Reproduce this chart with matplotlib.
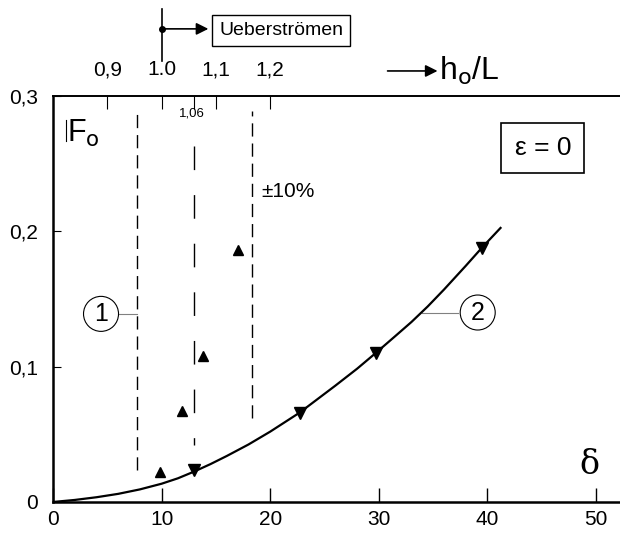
import matplotlib.pyplot as plt

plt.rcParams['font.family'] = ['Liberation Sans', 'DejaVu Sans']

# curve 2
curve_x = [0, 2, 4, 6, 8, 10, 11.5, 13, 14.5, 16, 18, 20, 22.7, 26, 28, 29.7,
           31.5, 33, 34.5, 36, 38, 39.5, 41.2]
curve_y = [0, 0.0015, 0.0035, 0.006, 0.0093, 0.0135, 0.0175, 0.0225, 0.028, 0.034,
           0.0425, 0.052, 0.066, 0.086, 0.0985, 0.11, 0.1225, 0.133, 0.1445, 0.157,
           0.1745, 0.188, 0.2025]

# measured points on the curve (down triangles)
down_x = [13.0, 22.7, 29.7, 39.5]
down_y = [0.0237, 0.066, 0.11, 0.188]

# measured points (up triangles)
up_x = [9.85, 11.9, 13.8, 17.0]
up_y = [0.022, 0.067, 0.108, 0.186]

# vertical reference lines (delta positions)
band_low, band_high = 7.7, 18.3
mid_line = 12.95

x_ticks = [0, 10, 20, 30, 40, 50]
y_ticks = [0, 0.1, 0.2, 0.3]
y_labels = ['0', '0,1', '0,2', '0,3']
top_ticks = [0.9, 1.0, 1.06, 1.1, 1.2]
top_labels = ['0,9', '1.0', '', '1,1', '1,2']

fig = plt.figure(figsize=(6.2, 5.33), dpi=100)
ax = fig.add_axes([0.0855, 0.0582, 0.9145, 0.7617])
ax.set_xlim(0, 52.2)
ax.set_ylim(0, 0.3)

# lines and markers
ax.plot(curve_x, curve_y, color='black', lw=1.6, zorder=3)
ax.plot(down_x, down_y, 'v', color='black', ms=8, zorder=4)
ax.plot(up_x, up_y, '^', color='black', ms=7.5, zorder=4)

ax.plot([band_low, band_low], [0.0237, 0.289], color='black', lw=1, dashes=(9.5, 5))
ax.plot([band_high, band_high], [0.062, 0.289], color='black', lw=1, dashes=(9.5, 5))
ax.plot([mid_line, mid_line], [0.263, 0.042], color='black', lw=1, dashes=(17, 18))

# labels in the plot
ax.text(4.42, 0.139, '1', fontsize=18, ha='center', va='center',
        bbox=dict(boxstyle='circle,pad=0.22', fc='white', ec='black', lw=0.8))
ax.plot([6.1, band_low], [0.139, 0.139], color='gray', lw=0.8)
ax.text(39.1, 0.14, '2', fontsize=18, ha='center', va='center',
        bbox=dict(boxstyle='circle,pad=0.22', fc='white', ec='black', lw=0.8))
ax.plot([34.0, 37.3], [0.14, 0.14], color='gray', lw=0.8)

ax.text(45.1, 0.2615, 'ε = 0', fontsize=19, ha='center', va='center',
        bbox=dict(boxstyle='square,pad=0.5', fc='white', ec='black', lw=1.2))
ax.text(19.2, 0.2296, '±10%', fontsize=15, ha='left', va='center')
ax.text(12.8, 0.2867, '1,06', fontsize=9.5, ha='center', va='center')
ax.plot([1.18, 1.18], [0.2825, 0.2665], color='black', lw=0.8)
ax.text(1.3, 0.2835, r'F$_\mathsf{o}$', fontsize=22, ha='left', va='top')
ax.text(49.4, 0.0274, 'δ', fontsize=24, family='DejaVu Serif', ha='center', va='center')

# annotations above the axes
ax.plot([10, 10], [0.3644, 0.326], color='black', lw=1.2, clip_on=False)
ax.plot([10], [0.3496], 'o', color='black', ms=4, clip_on=False)
ax.annotate('', xy=(14.3, 0.3496), xytext=(10, 0.3496), annotation_clip=False,
            arrowprops=dict(arrowstyle='-|>', color='black', lw=1.2, mutation_scale=18,
                            shrinkA=0, shrinkB=0))
ax.text(21.0, 0.3485, 'Ueberströmen', fontsize=14, ha='center', va='center',
        bbox=dict(boxstyle='square,pad=0.35', fc='white', ec='black', lw=1))
ax.annotate('', xy=(35.4, 0.3185), xytext=(30.8, 0.3185), annotation_clip=False,
            arrowprops=dict(arrowstyle='-|>', color='black', lw=1.2, mutation_scale=18,
                            shrinkA=0, shrinkB=0))
ax.text(35.5, 0.3185, r'h$_\mathsf{o}$/L', fontsize=23, ha='left', va='center')

# axes styling
ax.spines['right'].set_visible(False)
ax.spines['left'].set_linewidth(1.8)
ax.spines['bottom'].set_linewidth(1.8)
ax.spines['top'].set_linewidth(1.2)

ax.set_xticks(x_ticks)
ax.set_yticks(y_ticks)
ax.set_yticklabels(y_labels)
ax.tick_params(axis='x', direction='in', length=10, width=1, labelsize=15, pad=6)
ax.tick_params(axis='y', direction='in', length=6, width=0.8, labelsize=15, pad=11)

sec = ax.secondary_xaxis('top', functions=(lambda d: (d + 40) / 50, lambda h: 50 * h - 40))
sec.set_xticks(top_ticks)
sec.set_xticklabels(top_labels)
sec.tick_params(direction='in', length=9, width=0.8, labelsize=15, pad=12)
sec.spines['top'].set_linewidth(1.2)

fig.savefig('out.png', dpi=100)
